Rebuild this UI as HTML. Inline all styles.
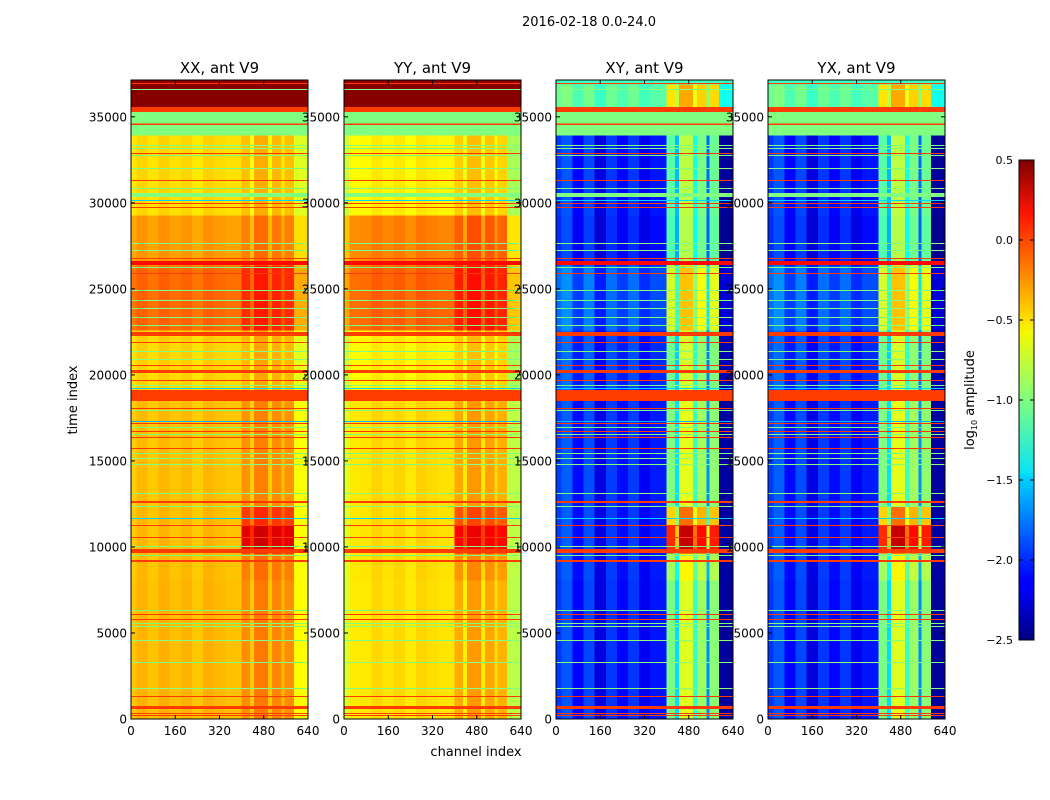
<!DOCTYPE html>
<html><head><meta charset="utf-8">
<style>
html,body{margin:0;padding:0;background:#fff;}
svg{display:block;font-family:"DejaVu Sans","Liberation Sans",sans-serif;}
</style></head>
<body>
<svg id="fig" width="1050" height="800" viewBox="0 0 1050 800">
<rect x="0" y="0" width="1050" height="800" fill="#fff"/>
<text x="589" y="26" font-size="13" text-anchor="middle">2016-02-18 0.0-24.0</text>
<text x="476" y="756" font-size="13" text-anchor="middle">channel index</text>
<text transform="translate(77,400) rotate(-90)" font-size="13" text-anchor="middle">time index</text>
<defs>
<linearGradient id="jet" x1="0" y1="1" x2="0" y2="0">
<stop offset="0" stop-color="#00007f"/><stop offset="0.11" stop-color="#0000ff"/>
<stop offset="0.125" stop-color="#0000ff"/><stop offset="0.34" stop-color="#00d4ff"/>
<stop offset="0.35" stop-color="#0ae4f4"/><stop offset="0.5" stop-color="#7fff7f"/>
<stop offset="0.64" stop-color="#f4f802"/><stop offset="0.66" stop-color="#ffe600"/>
<stop offset="0.89" stop-color="#ff1300"/><stop offset="1" stop-color="#7f0000"/>
</linearGradient>
</defs>
<g id="panels"></g>
<g id="cbar"></g>
</svg>
<script>
// ---- data ----
const panelTitles = ["XX, ant V9","YY, ant V9","XY, ant V9","YX, ant V9"];
const xTicks = [0,160,320,480,640];
const yTicks = [0,5000,10000,15000,20000,25000,30000,35000];
const cbarTicks = [-2.5,-2.0,-1.5,-1.0,-0.5,0.0,0.5];
const cbarLabels = ["\u22122.5","\u22122.0","\u22121.5","\u22121.0","\u22120.5","0.0","0.5"];
// time segments
const segLo  = [0,8080,9650,11300,12400,19120,22610,26390,29290,33940,35570,36900];
const segHi  = [8080,9650,11300,12400,19120,22610,26390,29290,33940,35570,36900,37140];
const segXX  = [-0.42,-0.43,-0.43,-0.43,-0.44,-0.50,-0.18,-0.33,-0.52,-1.0,0.48,0.45];
const segYY  = [-0.53,-0.52,-0.52,-0.52,-0.52,-0.58,-0.16,-0.25,-0.58,-1.0,0.48,0.45];
const segXY  = [-2.12,-2.10,-2.10,-2.10,-2.10,-2.05,-1.95,-2.15,-2.12,-1.0,-1.15,-1.2];
const segAutoMod  = [1,1,1,1,1,1,1,1,1,0,0,0];
const segCrossMod = [1,1,1,1,1,1,1,1,1,0,0.6,0];
const segHot = [0.05,0.1,0.55,0.3,0.05,0,0.1,0,0,0,0,0];
// channel groups
const chanEdges = [0,20,60,100,140,180,220,260,300,340,400,430,445,495,510,545,555,590,640];
const xxOff = [-0.04,0.02,-0.03,0.03,-0.02,0.02,-0.04,0.03,0,-0.02,0.08,-0.1,0.14,-0.08,0.1,-0.05,0.08,-0.2];
const yyOff = [-0.2,-0.04,-0.03,0.02,-0.02,0.02,-0.04,0.03,0,-0.02,0.1,-0.1,0.15,-0.08,0.12,-0.05,0.08,-0.3];
const xyOff = [0.15,0.25,0,0.2,-0.1,0.15,0,0.15,-0.05,0.05,1.0,0.55,1.3,0.8,1.1,0.3,1.05,-0.3];
const hotChan = [0,0,0,0,0,0,0,0,0,0,1,1,1,1,1,1,1,0];
// flagged time ranges (all channels)
const flagLo = [36906,36557,35279,34640,34524,33942,33303,33128,32838,32721,31966,31269,30804,30339,30106,29932,29699,27607,27200,26735,26387,26212,25863,24875,24294,23829,23306,22841,22260,21853,21330,20865,20516,20110,19645,19354,19180,18540,18482,18017,17901,17262,17146,16913,16681,16506,16332,15692,15402,15111,14763,13077,12554,12321,11624,11217,10520,9997,9648,9474,9125,6277,6045,5754,5521,5347,4533,3254,1744,1279,581,291,174];
const flagHi = [36964,36616,35569,35163,34611,34466,33361,33187,32896,32780,32024,31327,30862,30572,30164,29990,29758,27665,27258,26794,26619,26271,25922,24933,24352,23887,23364,22899,22492,21911,21388,20923,20575,20284,19703,19412,19238,19121,18540,18075,17959,17320,17204,16971,16739,16564,16390,15751,15460,15169,14821,13135,12670,12380,11682,11275,10578,10055,9880,9532,9241,6335,6103,5812,5580,5405,4591,3313,1802,1337,756,349,232];
const flagVal = [-0.05,-1.0,-0.05,-1.0,-0.05,-1.0,-1.0,-1.0,-0.05,-1.0,-1.0,-0.05,-1.0,-1.0,-1.5,-0.05,-0.05,-1.0,-1.0,-0.05,0.1,-1.0,-0.05,-1.0,-1.0,-1.0,-1.0,-1.0,-0.05,-0.05,-1.0,-1.0,-0.05,-0.05,-0.05,-1.0,-1.5,-0.05,-0.05,-0.05,-1.0,-1.6,-0.05,-1.0,-0.05,-1.0,-0.05,-0.05,-1.0,-1.0,-1.0,-1.0,-0.05,-1.0,-1.5,-0.05,-0.05,-1.0,-0.05,-1.0,-0.05,-1.0,-0.05,-0.05,-1.0,-1.0,-1.0,-1.0,-1.0,-0.05,-0.05,-0.05,-0.05];

// ---- layout ----
const NS="http://www.w3.org/2000/svg";
const panelLeft=[131,344,556,768], PW=177, TOP=80, BOT=719;
const TMAX=37140, CMAX=640, VMIN=-2.5, VMAX=0.5;
function xS(p,c){return panelLeft[p]+c/CMAX*PW;}
function yS(t){return BOT-t/TMAX*(BOT-TOP);}
function jet(v){
  let t=(v-VMIN)/(VMAX-VMIN); t=Math.max(0,Math.min(1,t));
  const cl=x=>Math.max(0,Math.min(1,x));
  const r=cl(1.5-Math.abs(4*t-3)), g=cl(1.5-Math.abs(4*t-2)), b=cl(1.5-Math.abs(4*t-1));
  return `rgb(${Math.round(r*255)},${Math.round(g*255)},${Math.round(b*255)})`;
}
function mk(tag,attrs,parent){const e=document.createElementNS(NS,tag);for(const k in attrs)e.setAttribute(k,attrs[k]);parent.appendChild(e);return e;}

const G=document.getElementById('panels');
for(let p=0;p<4;p++){
  const g=mk('g',{},G);
  
  
  const cells=mk('g',{'shape-rendering':'crispEdges'},g);
  
  
  const base = p===0?segXX:(p===1?segYY:segXY);
  const off = p===0?xxOff:(p===1?yyOff:xyOff);
  const cross = p>=2;
  for(let s=0;s<segLo.length;s++){
    for(let c=0;c<off.length;c++){
      let v=base[s]+off[c]*(cross?segCrossMod[s]:segAutoMod[s])+segHot[s]*hotChan[c]*(cross?2:1);
      const x0=xS(p,chanEdges[c]), x1=xS(p,chanEdges[c+1]);
      const y0=yS(segHi[s]), y1=yS(segLo[s]);
      const r=mk('rect',{x:x0.toFixed(2),y:y0.toFixed(2),width:(x1-x0+0.4).toFixed(2),height:(y1-y0+0.4).toFixed(2),fill:jet(v)},cells);
      
      
    }
  }
  for(let f=0;f<flagLo.length;f++){
    const y0=yS(flagHi[f]), y1=yS(flagLo[f]);
    const r=mk('rect',{x:panelLeft[p],y:y0.toFixed(2),width:PW,height:Math.max(1,y1-y0).toFixed(2),fill:jet(flagVal[f])},cells);
    
    
  }
  const fr=mk('rect',{x:panelLeft[p],y:TOP,width:PW,height:BOT-TOP,fill:'none',stroke:'#000','stroke-width':1},g);
  
  
  const tt=mk('text',{x:panelLeft[p]+PW/2,y:TOP-7,'font-size':15,'text-anchor':'middle'},g);
  tt.textContent=panelTitles[p];
  
  
  for(const xv of xTicks){
    const x=xS(p,xv);
    mk('line',{x1:x,x2:x,y1:BOT,y2:BOT-4,stroke:'#000'},g);
    mk('line',{x1:x,x2:x,y1:TOP,y2:TOP+4,stroke:'#000'},g);
    const l=mk('text',{x:x,y:BOT+16,'font-size':12,'text-anchor':'middle'},g);
    l.textContent=xv;
    
    
  }
  for(const yv of yTicks){
    const y=yS(yv);
    mk('line',{x1:panelLeft[p],x2:panelLeft[p]+4,y1:y,y2:y,stroke:'#000'},g);
    mk('line',{x1:panelLeft[p]+PW,x2:panelLeft[p]+PW-4,y1:y,y2:y,stroke:'#000'},g);
    const l=mk('text',{x:panelLeft[p]-4,y:y+4.5,'font-size':12,'text-anchor':'end'},g);
    l.textContent=yv;
    
    
  }
}
// colorbar
const CB=document.getElementById('cbar');
const cx=1019,cw=15,ct=160,cb=640;
const bar=mk('rect',{x:cx,y:ct,width:cw,height:cb-ct,fill:'url(#jet)',stroke:'#000','stroke-width':1},CB);


cbarTicks.forEach((v,i)=>{
  const y=cb-(v-VMIN)/(VMAX-VMIN)*(cb-ct);
  mk('line',{x1:cx,x2:cx+4,y1:y,y2:y,stroke:'#000'},CB);
  mk('line',{x1:cx+cw,x2:cx+cw-4,y1:y,y2:y,stroke:'#000'},CB);
  const l=mk('text',{x:cx-6,y:y+4,'font-size':11,'text-anchor':'end'},CB);
  l.textContent=cbarLabels[i];
  
  
});
const ct2=mk('text',{transform:'translate(974,400) rotate(-90)','font-size':13,'text-anchor':'middle'},CB);
ct2.innerHTML='log<tspan font-size="8" dy="3">10</tspan><tspan dy="-3"> amplitude</tspan>';


</script>
</body></html>
